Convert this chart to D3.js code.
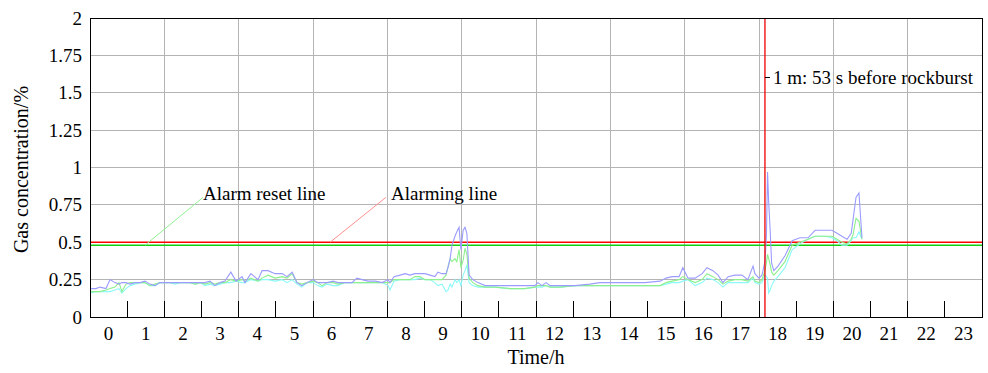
<!DOCTYPE html>
<html><head><meta charset="utf-8">
<script src="https://cdn.jsdelivr.net/npm/d3@7"></script>
<style>body{margin:0;background:#fff}text{font-family:"Liberation Serif","Times New Roman",serif}</style>
</head><body><svg id="c" width="988" height="373"></svg>
<script>
const hours = d3.range(0, 24);
const yTicks = [0, 0.25, 0.5, 0.75, 1, 1.25, 1.5, 1.75, 2];
const yTickLabels = ["0", "0.25", "0.5", "0.75", "1", "1.25", "1.5", "1.75", "2"];
const alarmLine = 0.5;
const resetLine = 0.48;
const rockburstTime = 17.66;

const times = [-0.47,-0.34,-0.23,-0.07,0.04,0.17,0.28,0.36,0.47,0.58,0.71,0.85,0.98,1.11,1.25,1.38,1.52,1.65,1.79,1.92,
2.06,2.19,2.33,2.46,2.59,2.73,2.86,3.00,3.13,3.29,3.43,3.59,3.67,3.83,4.02,4.13,4.29,4.48,4.67,4.80,4.94,5.07,5.20,5.34,5.50,
5.63,5.74,5.88,6.04,6.17,6.36,6.55,6.68,6.82,6.98,7.17,7.36,7.52,7.57,7.68,7.84,7.98,8.11,8.24,8.38,8.51,8.65,8.78,8.86,8.97,
9.08,9.13,9.19,9.24,9.32,9.37,9.43,9.48,9.54,9.59,9.64,9.70,9.80,9.94,10.13,10.40,10.80,11.20,11.47,11.55,11.66,11.77,11.88,
12.15,12.55,12.95,13.22,13.63,14.03,14.43,14.84,15.00,15.16,15.35,15.45,15.59,15.78,15.97,16.10,16.26,16.40,16.53,16.67,16.85,
17.04,17.20,17.34,17.39,17.50,17.58,17.66,17.70,17.73,17.76,17.80,17.84,17.90,18.01,18.20,18.39,18.60,18.82,19.01,19.28,19.46,
19.60,19.73,19.87,19.98,20.03,20.11,20.19,20.27];

const blue = [0.19,0.19,0.20,0.19,0.25,0.23,0.22,0.23,0.23,0.22,0.23,0.23,0.24,0.22,0.21,0.23,0.23,0.23,0.23,0.23,
0.23,0.23,0.23,0.23,0.23,0.24,0.21,0.23,0.24,0.30,0.24,0.27,0.23,0.29,0.25,0.31,0.31,0.29,0.29,0.27,0.30,0.23,0.21,0.23,0.25,
0.23,0.23,0.23,0.24,0.23,0.23,0.23,0.26,0.25,0.24,0.24,0.23,0.25,0.23,0.27,0.28,0.29,0.28,0.29,0.29,0.29,0.28,0.27,0.30,0.29,
0.29,0.33,0.39,0.48,0.54,0.57,0.60,0.45,0.58,0.60,0.56,0.28,0.25,0.23,0.21,0.21,0.21,0.21,0.21,0.23,0.21,0.23,0.21,
0.21,0.21,0.22,0.23,0.23,0.23,0.23,0.24,0.26,0.27,0.27,0.33,0.26,0.26,0.29,0.33,0.31,0.28,0.23,0.27,0.28,
0.28,0.25,0.34,0.29,0.26,0.28,0.37,0.54,0.97,0.77,0.58,0.36,0.31,0.34,0.41,0.51,0.53,0.53,0.58,0.58,0.58,
0.56,0.54,0.52,0.56,0.65,0.80,0.83,0.53];

const green = [0.17,0.17,0.17,0.18,0.19,0.20,0.23,0.17,0.22,0.23,0.23,0.23,0.23,0.21,0.22,0.23,0.23,0.23,0.23,0.23,
0.23,0.23,0.22,0.23,0.22,0.23,0.22,0.23,0.23,0.25,0.24,0.25,0.24,0.26,0.24,0.26,0.28,0.26,0.27,0.26,0.29,0.23,0.22,0.23,0.24,
0.23,0.21,0.23,0.23,0.22,0.23,0.23,0.23,0.23,0.23,0.23,0.23,0.23,0.23,0.25,0.25,0.25,0.25,0.27,0.27,0.25,0.25,0.25,0.25,0.25,
0.28,0.33,0.39,0.37,0.39,0.37,0.45,0.33,0.38,0.46,0.42,0.26,0.23,0.21,0.20,0.20,0.19,0.19,0.20,0.21,0.21,0.21,0.20,
0.20,0.21,0.21,0.21,0.21,0.21,0.21,0.21,0.23,0.24,0.25,0.27,0.25,0.23,0.25,0.29,0.27,0.25,0.22,0.24,0.25,
0.25,0.24,0.27,0.24,0.23,0.25,0.31,0.36,0.42,0.39,0.35,0.30,0.28,0.31,0.37,0.48,0.50,0.52,0.54,0.54,0.54,
0.52,0.50,0.49,0.52,0.55,0.66,0.64,0.52];

const cyan = [0.16,0.17,0.17,0.17,0.17,0.18,0.19,0.16,0.19,0.21,0.22,0.23,0.23,0.21,0.21,0.23,0.23,0.23,0.22,0.23,
0.23,0.23,0.22,0.23,0.21,0.22,0.21,0.22,0.23,0.23,0.24,0.23,0.23,0.25,0.24,0.25,0.25,0.24,0.25,0.23,0.25,0.22,0.20,0.23,0.23,
0.21,0.20,0.22,0.21,0.21,0.23,0.23,0.23,0.23,0.23,0.23,0.23,0.21,0.18,0.24,0.25,0.25,0.25,0.25,0.26,0.25,0.25,0.23,0.21,0.22,
0.17,0.18,0.22,0.20,0.25,0.23,0.25,0.21,0.28,0.31,0.35,0.23,0.21,0.20,0.20,0.20,0.19,0.19,0.20,0.20,0.20,0.21,0.20,
0.20,0.21,0.21,0.21,0.21,0.21,0.21,0.21,0.22,0.23,0.23,0.24,0.25,0.21,0.23,0.26,0.25,0.23,0.20,0.23,0.23,
0.23,0.23,0.26,0.23,0.22,0.23,0.28,0.27,0.26,0.16,0.18,0.21,0.24,0.27,0.33,0.45,0.49,0.52,0.54,0.54,0.53,
0.51,0.48,0.48,0.51,0.53,0.53,0.57,0.52];

const svg = d3.select("#c");
const L = 90, R = 982, T = 18, B = 317;
const x = d3.scaleLinear().domain([-0.5, 23.5]).range([L, R]);
const y = d3.scaleLinear().domain([0, 2]).range([B, T]);
const FS = 19, TFS = 20;

// horizontal grid
svg.append("g").selectAll("line").data(yTicks.slice(1)).join("line")
  .attr("x1", L).attr("x2", R).attr("y1", d => y(d)).attr("y2", d => y(d))
  .attr("stroke", "#b4b4b4").attr("stroke-width", 1).attr("shape-rendering", "crispEdges");
// vertical grid every 2 hours (band boundaries)
const vgrid = d3.range(1.5, 23, 2);
svg.append("g").selectAll("line").data(vgrid).join("line")
  .attr("x1", d => x(d)).attr("x2", d => x(d)).attr("y1", T).attr("y2", B)
  .attr("stroke", "#b4b4b4").attr("stroke-width", 1).attr("shape-rendering", "crispEdges");

// x axis ticks at all band boundaries
const bounds = d3.range(0.5, 23, 1);
svg.append("g").selectAll("line").data(bounds).join("line")
  .attr("x1", d => x(d)).attr("x2", d => x(d)).attr("y1", B - 16).attr("y2", B)
  .attr("stroke", "#000").attr("stroke-width", 1).attr("shape-rendering", "crispEdges");

// alarm lines
svg.append("line").attr("x1", L).attr("x2", R).attr("y1", y(alarmLine)).attr("y2", y(alarmLine))
  .attr("stroke", "#ff0000").attr("stroke-width", 1.6);
svg.append("line").attr("x1", L).attr("x2", R).attr("y1", y(resetLine)).attr("y2", y(resetLine))
  .attr("stroke", "#10d010").attr("stroke-width", 1.6);

// series
const line = d3.line().x((d, i) => x(times[i])).y(d => y(d));
[[cyan, "#8cf8f8"], [green, "#8cf08c"], [blue, "#9c9cff"]].forEach(([s, c]) => {
  svg.append("path").datum(s).attr("d", line).attr("fill", "none")
    .attr("stroke", c).attr("stroke-width", 1.1);
});

// rockburst line
svg.append("line").attr("x1", x(rockburstTime)).attr("x2", x(rockburstTime)).attr("y1", T).attr("y2", B)
  .attr("stroke", "#ee0000").attr("stroke-width", 1.3);

// frame
svg.append("rect").attr("x", L).attr("y", T).attr("width", R - L).attr("height", B - T)
  .attr("fill", "none").attr("stroke", "#000").attr("stroke-width", 1).attr("shape-rendering", "crispEdges");

// x labels
svg.append("g").selectAll("text").data(hours).join("text")
  .attr("x", d => x(d)).attr("y", 340).attr("text-anchor", "middle").attr("font-size", FS).text(d => d);
// y labels
svg.append("g").selectAll("text").data(yTicks).join("text")
  .attr("x", 82).attr("y", d => y(d) + 6.5).attr("text-anchor", "end").attr("font-size", FS)
  .text((d, i) => yTickLabels[i]);

svg.append("text").attr("x", (L + R) / 2).attr("y", 364).attr("text-anchor", "middle")
  .attr("font-size", TFS).text("Time/h");
svg.append("text").attr("transform", `translate(28,${(T + B) / 2 + 2}) rotate(-90)`).attr("text-anchor", "middle")
  .attr("font-size", TFS).text("Gas concentration/%");

// annotations
svg.append("line").attr("x1", x(0.98)).attr("y1", y(0.48)).attr("x2", x(2.54)).attr("y2", y(0.80))
  .attr("stroke", "#90f090").attr("stroke-width", 1);
svg.append("text").attr("x", x(2.54)).attr("y", 200).attr("font-size", FS).text("Alarm reset line");
svg.append("line").attr("x1", x(5.96)).attr("y1", y(0.5)).attr("x2", x(7.46)).attr("y2", y(0.80))
  .attr("stroke", "#ff9090").attr("stroke-width", 1);
svg.append("text").attr("x", x(7.6)).attr("y", 200).attr("font-size", FS).text("Alarming line");
svg.append("line").attr("x1", x(rockburstTime)).attr("x2", x(rockburstTime) + 5).attr("y1", 77.5).attr("y2", 77.5)
  .attr("stroke", "#000").attr("stroke-width", 1);
svg.append("text").attr("x", x(rockburstTime) + 8).attr("y", 84).attr("font-size", FS).text("1 m: 53 s before rockburst");
</script></body></html>
